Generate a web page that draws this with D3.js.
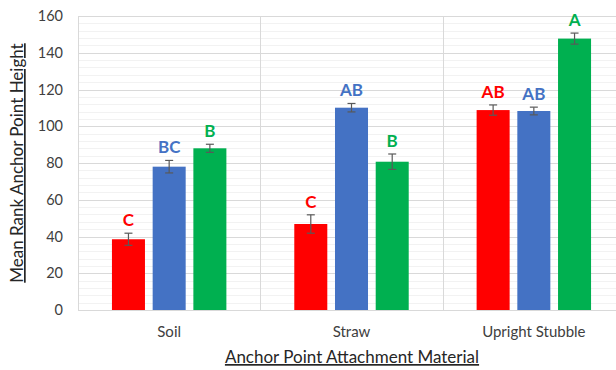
<!DOCTYPE html>
<html>
<head>
<meta charset="utf-8">
<script src="https://cdn.jsdelivr.net/npm/d3@7"></script>
<style>
  html, body { margin: 0; padding: 0; background: #fff; overflow: hidden; }
  svg { display: block; font-family: Lato, "Open Sans", sans-serif; }
</style>
</head>
<body>
<div id="chart"></div>
<script>
const categories = ["Soil", "Straw", "Upright Stubble"];
const seriesNames = ["S1", "S2", "S3"];
const seriesColors = ["#FF0000", "#4472C4", "#00B050"];
const values = [
  [38.5, 78.0, 88.0],
  [46.8, 110.1, 80.7],
  [108.8, 108.3, 147.7]
];
const errors = [
  [3.3, 3.4, 2.2],
  [5.0, 2.3, 4.2],
  [2.8, 2.1, 3.0]
];
const letters = [
  ["C", "BC", "B"],
  ["C", "AB", "B"],
  ["AB", "AB", "A"]
];
const yTicks = [0, 20, 40, 60, 80, 100, 120, 140, 160];
const yMinorTicks = d3.range(0, 161, 4);
const yTitle = "Mean Rank Anchor Point Height";
const xTitle = "Anchor Point Attachment Material";

const W = 616, H = 370;
const mLeft = 78, mRight = 625, mTop = 16, mBottom = 310;

const svg = d3.select("#chart").append("svg").attr("width", W).attr("height", H);

const y = d3.scaleLinear().domain([0, 160]).range([mBottom, mTop]);
const x0 = d3.scaleBand().domain(categories).range([mLeft, mRight]).paddingInner(0).paddingOuter(0);
const x1 = d3.scaleBand().domain(seriesNames).range([0, x0.bandwidth()]).paddingInner(0.189).paddingOuter(0.834);

// minor gridlines
svg.append("g").selectAll("line").data(yMinorTicks.filter(t => t % 20 !== 0)).join("line")
  .attr("x1", mLeft).attr("x2", mRight)
  .attr("y1", d => Math.round(y(d)) + 0.5).attr("y2", d => Math.round(y(d)) + 0.5)
  .attr("stroke", "#F2F2F2").attr("stroke-width", 1);

// major gridlines
svg.append("g").selectAll("line").data(yTicks).join("line")
  .attr("x1", mLeft).attr("x2", mRight)
  .attr("y1", d => Math.round(y(d)) + 0.5).attr("y2", d => Math.round(y(d)) + 0.5)
  .attr("stroke", "#D9D9D9").attr("stroke-width", 1);

// vertical category separators
const seps = [mLeft].concat(categories.map(c => x0(c) + x0.bandwidth()));
svg.append("g").selectAll("line").data(seps).join("line")
  .attr("x1", d => Math.round(d) + 0.5).attr("x2", d => Math.round(d) + 0.5)
  .attr("y1", mTop).attr("y2", mBottom)
  .attr("stroke", "#D9D9D9").attr("stroke-width", 1);

// bars
const groups = svg.append("g").selectAll("g").data(categories).join("g")
  .attr("transform", c => `translate(${x0(c)},0)`);

groups.each(function(c, ci) {
  const g = d3.select(this);
  const rows = seriesNames.map((s, si) => ({ s, si, v: values[ci][si], e: errors[ci][si], l: letters[ci][si] }));
  g.selectAll("rect").data(rows).join("rect")
    .attr("x", d => x1(d.s)).attr("width", x1.bandwidth())
    .attr("y", d => y(d.v)).attr("height", d => y(0) - y(d.v))
    .attr("fill", d => seriesColors[d.si]);
  const eb = g.append("g").attr("stroke", "#595959").attr("stroke-width", 1.2);
  rows.forEach(d => {
    const cx = x1(d.s) + x1.bandwidth() / 2;
    eb.append("line").attr("x1", cx).attr("x2", cx).attr("y1", y(d.v + d.e)).attr("y2", y(d.v - d.e));
    eb.append("line").attr("x1", cx - 4).attr("x2", cx + 4).attr("y1", y(d.v + d.e)).attr("y2", y(d.v + d.e));
    eb.append("line").attr("x1", cx - 4).attr("x2", cx + 4).attr("y1", y(d.v - d.e)).attr("y2", y(d.v - d.e));
  });
  g.selectAll("text.lbl").data(rows).join("text").attr("class", "lbl")
    .attr("x", d => x1(d.s) + x1.bandwidth() / 2)
    .attr("y", d => y(d.v + d.e) - 7)
    .attr("text-anchor", "middle")
    .attr("font-size", 17).attr("font-weight", "bold")
    .attr("fill", d => seriesColors[d.si])
    .text(d => d.l);
});

// y axis tick labels
svg.append("g").selectAll("text").data(yTicks).join("text")
  .attr("x", 63).attr("y", d => y(d)).attr("dy", "0.35em")
  .attr("text-anchor", "end").attr("font-size", 14.5).attr("fill", "#404040")
  .text(d => d);

// x category labels
svg.append("g").selectAll("text").data(categories).join("text")
  .attr("x", c => x0(c) + x0.bandwidth() / 2).attr("y", 332).attr("dy", "0.35em")
  .attr("text-anchor", "middle").attr("font-size", 15).attr("fill", "#404040")
  .text(c => c);

// axis titles
svg.append("text")
  .attr("transform", `translate(23,${(mTop + mBottom) / 2}) rotate(-90)`)
  .attr("text-anchor", "middle").attr("font-size", 17).attr("fill", "#262626")
  .style("text-decoration", "underline")
  .text(yTitle);

svg.append("text")
  .attr("x", 352).attr("y", 363)
  .attr("text-anchor", "middle").attr("font-size", 17).attr("fill", "#262626")
  .style("text-decoration", "underline")
  .text(xTitle);
</script>
</body>
</html>
